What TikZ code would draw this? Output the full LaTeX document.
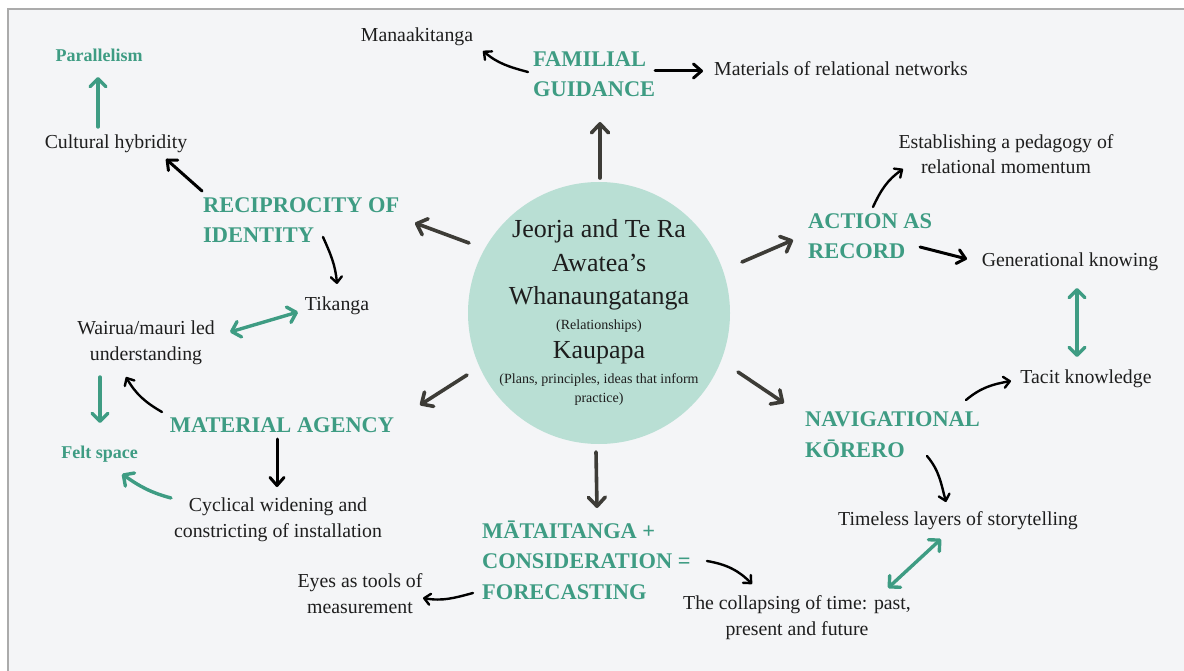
\documentclass[tikz,border=0pt]{standalone}
\usepackage{fontspec}
\setmainfont{Liberation Serif}
\usetikzlibrary{arrows.meta}

\definecolor{panel}{HTML}{F4F5F7}
\definecolor{frame}{HTML}{ABABAB}
\definecolor{mint}{HTML}{B9DFD4}
\definecolor{themegreen}{HTML}{3E9C83}
\definecolor{spokegray}{HTML}{3D3C37}
\definecolor{ink}{HTML}{1E1E1E}

% y grows downwards; multi-line nodes sit on the baseline of their last line
\tikzset{
  lbl/.style={font=\fontsize{19.8}{25.5}\selectfont, text=ink, inner sep=0pt, align=center, anchor=base},
  theme/.style={font=\fontsize{22.4}{30.5}\selectfont\bfseries, text=themegreen, inner sep=0pt, align=left, anchor=base west},
  tag/.style={font=\fontsize{18}{20}\selectfont\bfseries, text=themegreen, inner sep=0pt, anchor=base},
  hubbig/.style={font=\fontsize{26}{30}\selectfont, text=ink, inner sep=0pt, anchor=base},
  hubsmall/.style={font=\fontsize{14}{16}\selectfont, text=ink, inner sep=0pt, anchor=base},
  spoke/.style={draw=spokegray, line width=3.6pt, line cap=round,
    -{Straight Barb[length=9pt,width=17pt,round]}},
  blkthin/.style={draw=black, line width=2.4pt, line cap=round,
    -{Straight Barb[length=6pt,width=11pt,round]}},
  blkthick/.style={draw=black, line width=3pt, line cap=round,
    -{Straight Barb[length=8pt,width=14pt,round]}},
  grn/.style={draw=themegreen, line width=3.4pt, line cap=round,
    -{Straight Barb[length=8pt,width=16pt,round]}},
  grnboth/.style={draw=themegreen, line width=3.4pt, line cap=round,
    {Straight Barb[length=8pt,width=16pt,round]}-{Straight Barb[length=8pt,width=16pt,round]}},
}

\begin{document}
\begin{tikzpicture}[x=1pt,y=-1pt]
  \useasboundingbox (0,0) rectangle (1184,671);
  % page and panel
  \fill[white] (0,0) rectangle (1184,671);
  \fill[panel] (8,9) rectangle (1184,671);
  \draw[frame, line width=2pt] (8.3,671) -- (8.3,9.3) -- (1184,9.3);

  % central circle and its text
  \node[circle, fill=mint, minimum size=262pt, inner sep=0pt] (hub) at (599,313) {};
  \node[hubbig]   (hubA) at (599,238) {Jeorja and Te Ra};
  \node[hubbig]   (hubB) at (599,272) {Awatea’s};
  \node[hubbig]   (hubC) at (599,305) {Whanaungatanga};
  \node[hubsmall] (hubD) at (599,330) {(Relationships)};
  \node[hubbig]   (hubE) at (599,358) {Kaupapa};
  \node[hubsmall] (hubF) at (599,383) {(Plans, principles, ideas that inform};
  \node[hubsmall] (hubG) at (599,402) {practice)};

  % themes
  \node[theme] (fam)    at (533,97)  {FAMILIAL\\GUIDANCE};
  \node[theme] (recip)  at (203,243) {RECIPROCITY OF\\IDENTITY};
  \node[theme] (action) at (808,259) {ACTION AS\\RECORD};
  \node[theme] (nav)    at (805,457) {NAVIGATIONAL\\KŌRERO};
  \node[theme] (mata)   at (482,599) {MĀTAITANGA +\\CONSIDERATION =\\FORECASTING};
  \node[theme, anchor=base] (matag) at (282,432) {MATERIAL AGENCY};

  % green tags
  \node[tag] (para) at (99,62)    {Parallelism};
  \node[tag] (felt) at (99.5,458) {Felt space};

  % labels
  \node[lbl] (mana)  at (417,42)  {Manaakitanga};
  \node[lbl, anchor=base west] (mater) at (714,76) {Materials of relational networks};
  \node[lbl] (cult)  at (116,149) {Cultural hybridity};
  \node[lbl] (tik)   at (337,311) {Tikanga};
  \node[lbl] (wai)   at (146,360) {Wairua/mauri led\\understanding};
  \node[lbl] (cyc)   at (278,537) {Cyclical widening and\\constricting of installation};
  \node[lbl] (eyes)  at (360,613) {Eyes as tools of\\measurement};
  \node[lbl] (coll)  at (797,635) {The collapsing of time: past,\\present and future};
  \node[lbl] (time)  at (958,525) {Timeless layers of storytelling};
  \node[lbl] (gen)   at (1070,267) {Generational knowing};
  \node[lbl] (tacit) at (1086,383) {Tacit knowledge};
  \node[lbl] (estab) at (1006,174) {Establishing a pedagogy of\\relational momentum};

  % spokes from the circle
  \draw[spoke] ([shift={(1,-135)}]hub.center)  -- ([shift={(67,25)}]fam.base west);
  \draw[spoke] ([shift={(-130,-70)}]hub.center) -- ([shift={(212,-20)}]recip.base west);
  \draw[spoke] ([shift={(-132,62)}]hub.center) -- ([shift={(138,-27)}]matag.base);
  \draw[spoke] ([shift={(-3,139)}]hub.center)  -- ([shift={(115,-91)}]mata.base west);
  \draw[spoke] ([shift={(139,59)}]hub.center)  -- ([shift={(-21,-54)}]nav.base west);
  \draw[spoke] ([shift={(143,-51)}]hub.center) -- ([shift={(-15,-19)}]action.base west);

  % familial guidance
  \draw[blkthin]  ([shift={(-5,-25)}]fam.base west) to[out=165,in=320] ([shift={(66,9)}]mana.base);
  \draw[blkthick] ([shift={(122,-26)}]fam.base west) -- ([shift={(-11,-5)}]mater.base west);

  % reciprocity of identity
  \draw[blkthick] ([shift={(-1,-52)}]recip.base west) -- ([shift={(50,10)}]cult.base);
  \draw[grn] ([shift={(-18,-22)}]cult.base) -- ([shift={(-1,15)}]para.base);
  \draw[blkthin] ([shift={(120,-6)}]recip.base west) to[out=294,in=95] ([shift={(0,-27)}]tik.base);
  \draw[grnboth] ([shift={(84,-28)}]wai.base) -- ([shift={(-39,1)}]tik.base);

  % material agency
  \draw[blkthin] ([shift={(-120,-20)}]matag.base) to[out=150,in=300] ([shift={(-20,17)}]wai.base);
  \draw[grn] ([shift={(-46,17)}]wai.base) -- ([shift={(0.5,-35)}]felt.base);
  \draw[blkthick] ([shift={(-5,7)}]matag.base) -- ([shift={(-1,-50)}]cyc.base);
  \draw[grn] ([shift={(-107,-39)}]cyc.base) to[out=165,in=325] ([shift={(22.5,16)}]felt.base);

  % matatanga and forecasting
  \draw[blkthin] ([shift={(-9,-6)}]mata.base west) to[out=195,in=350] ([shift={(63,-15)}]eyes.base);
  \draw[blkthin] ([shift={(225,-38)}]mata.base west) to[out=350,in=135] ([shift={(-45,-51)}]coll.base);
  \draw[grnboth] ([shift={(91,-47)}]coll.base) -- ([shift={(-17,14)}]time.base);

  % navigational korero
  \draw[blkthin] ([shift={(122,-1)}]nav.base west) to[out=310,in=105] ([shift={(-12,-23)}]time.base);
  \draw[blkthin] ([shift={(161,-57)}]nav.base west) to[out=40,in=190] ([shift={(-75,-2)}]tacit.base);
  \draw[grnboth] ([shift={(7,21)}]gen.base) -- ([shift={(-9,-26)}]tacit.base);

  % action as record
  \draw[blkthick] ([shift={(112,-12)}]action.base west) -- ([shift={(-103,-8)}]gen.base);
  \draw[blkthin] ([shift={(65,-52)}]action.base west) to[out=65,in=215] ([shift={(-103,-5)}]estab.base);
\end{tikzpicture}
\end{document}
